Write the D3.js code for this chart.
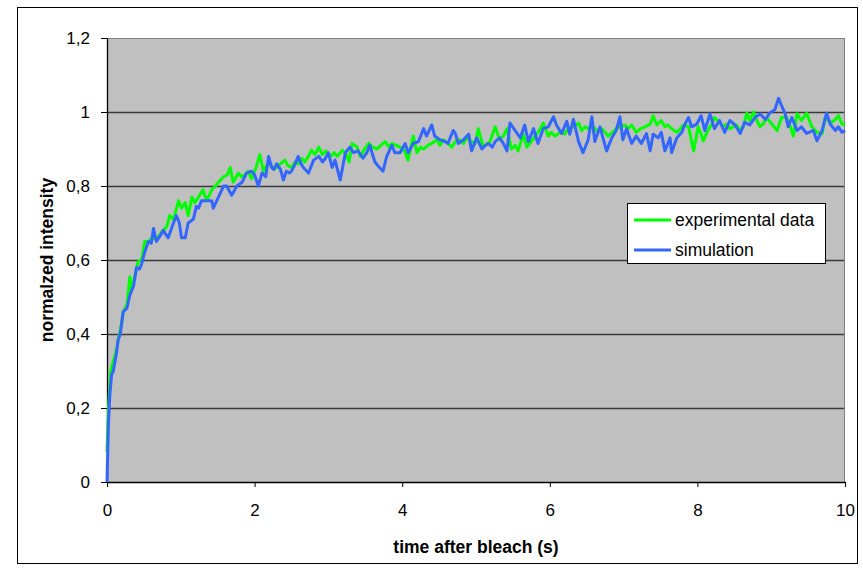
<!DOCTYPE html>
<html>
<head>
<meta charset="utf-8">
<script src="https://cdn.jsdelivr.net/npm/d3@7"></script>
<style>
  body { margin: 0; background: #fff; }
  svg { display: block; font-family: "Liberation Sans", Arial, sans-serif; }
</style>
</head>
<body>
<svg class="chart" width="863" height="572"></svg>
<script>
// experimental data (time in s, normalized intensity)
const expTime = [0, 0.02, 0.05, 0.09, 0.13, 0.18, 0.22, 0.27, 0.31, 0.33, 0.37, 0.42, 0.47, 0.51, 0.56, 0.61, 0.67, 0.72, 0.76, 0.81, 0.85, 0.9, 0.97, 1.01, 1.06, 1.1, 1.15, 1.19, 1.24, 1.3, 1.35, 1.42, 1.47, 1.51, 1.58, 1.63, 1.67, 1.71, 1.78, 1.82, 1.87, 1.91, 1.96, 2.02, 2.07, 2.12, 2.16, 2.21, 2.26, 2.3, 2.35, 2.41, 2.45, 2.5, 2.55, 2.59, 2.64, 2.68, 2.73, 2.77, 2.82, 2.87, 2.92, 2.97, 3.03, 3.08, 3.12, 3.19, 3.24, 3.28, 3.32, 3.39, 3.43, 3.49, 3.55, 3.6, 3.66, 3.71, 3.77, 3.82, 3.86, 3.92, 3.97, 4.03, 4.08, 4.15, 4.2, 4.25, 4.29, 4.35, 4.4, 4.47, 4.51, 4.56, 4.62, 4.67, 4.74, 4.78, 4.83, 4.87, 4.94, 4.99, 5.03, 5.1, 5.15, 5.19, 5.26, 5.32, 5.37, 5.42, 5.48, 5.53, 5.57, 5.64, 5.69, 5.75, 5.8, 5.86, 5.91, 5.98, 6.02, 6.07, 6.14, 6.2, 6.25, 6.32, 6.39, 6.43, 6.48, 6.52, 6.57, 6.63, 6.7, 6.75, 6.79, 6.85, 6.9, 6.96, 7.02, 7.06, 7.11, 7.17, 7.23, 7.29, 7.36, 7.4, 7.45, 7.51, 7.56, 7.6, 7.65, 7.72, 7.77, 7.81, 7.88, 7.92, 7.95, 8.01, 8.05, 8.08, 8.14, 8.19, 8.23, 8.3, 8.34, 8.39, 8.44, 8.48, 8.53, 8.58, 8.62, 8.67, 8.71, 8.76, 8.81, 8.85, 8.9, 8.94, 9.01, 9.08, 9.14, 9.21, 9.26, 9.3, 9.35, 9.41, 9.48, 9.55, 9.62, 9.69, 9.73, 9.78, 9.82, 9.87, 9.91, 9.96, 10];
const expValue = [0.08, 0.2, 0.3, 0.33, 0.36, 0.41, 0.46, 0.48, 0.555, 0.52, 0.55, 0.595, 0.6, 0.65, 0.65, 0.66, 0.655, 0.67, 0.68, 0.69, 0.72, 0.71, 0.76, 0.74, 0.755, 0.72, 0.77, 0.755, 0.77, 0.79, 0.76, 0.79, 0.8, 0.81, 0.825, 0.83, 0.85, 0.81, 0.835, 0.825, 0.83, 0.84, 0.82, 0.85, 0.885, 0.84, 0.855, 0.86, 0.845, 0.85, 0.86, 0.87, 0.855, 0.85, 0.865, 0.86, 0.875, 0.865, 0.88, 0.897, 0.885, 0.905, 0.885, 0.895, 0.88, 0.89, 0.88, 0.897, 0.885, 0.865, 0.915, 0.905, 0.88, 0.9, 0.915, 0.905, 0.9, 0.91, 0.92, 0.905, 0.915, 0.91, 0.905, 0.895, 0.87, 0.935, 0.89, 0.905, 0.9, 0.91, 0.915, 0.925, 0.91, 0.925, 0.915, 0.905, 0.925, 0.925, 0.915, 0.93, 0.92, 0.915, 0.955, 0.905, 0.915, 0.92, 0.96, 0.925, 0.935, 0.955, 0.9, 0.91, 0.895, 0.94, 0.905, 0.92, 0.935, 0.95, 0.97, 0.935, 0.945, 0.935, 0.945, 0.94, 0.955, 0.96, 0.97, 0.95, 0.96, 0.955, 0.965, 0.95, 0.955, 0.945, 0.935, 0.945, 0.955, 0.96, 0.965, 0.955, 0.965, 0.945, 0.955, 0.96, 0.967, 0.99, 0.965, 0.977, 0.96, 0.965, 0.955, 0.945, 0.955, 0.965, 0.96, 0.922, 0.895, 0.96, 0.94, 0.922, 0.95, 0.965, 0.985, 0.972, 0.96, 0.967, 0.955, 0.96, 0.965, 0.95, 0.96, 0.997, 0.977, 1.0, 0.975, 0.96, 0.97, 0.985, 0.967, 0.95, 0.985, 0.985, 0.96, 0.935, 0.995, 0.977, 0.997, 0.96, 0.945, 0.942, 0.985, 0.975, 0.972, 0.98, 0.99, 0.967, 0.965];

// simulation
const simTime = [0, 0.02, 0.04, 0.063, 0.086, 0.13, 0.15, 0.18, 0.22, 0.27, 0.31, 0.36, 0.4, 0.44, 0.47, 0.51, 0.56, 0.6, 0.63, 0.67, 0.72, 0.76, 0.83, 0.9, 0.94, 0.98, 1.01, 1.06, 1.1, 1.17, 1.21, 1.24, 1.28, 1.35, 1.42, 1.44, 1.51, 1.58, 1.62, 1.69, 1.76, 1.83, 1.89, 1.96, 2.0, 2.05, 2.1, 2.15, 2.19, 2.23, 2.26, 2.3, 2.35, 2.39, 2.43, 2.47, 2.5, 2.55, 2.59, 2.63, 2.66, 2.73, 2.8, 2.87, 2.92, 2.96, 3.0, 3.05, 3.09, 3.16, 3.23, 3.29, 3.34, 3.4, 3.47, 3.52, 3.56, 3.63, 3.67, 3.74, 3.79, 3.86, 3.9, 3.97, 4.04, 4.08, 4.15, 4.22, 4.29, 4.33, 4.4, 4.44, 4.51, 4.58, 4.62, 4.69, 4.72, 4.76, 4.83, 4.9, 4.94, 5.01, 5.08, 5.13, 5.17, 5.22, 5.26, 5.32, 5.37, 5.42, 5.46, 5.53, 5.6, 5.66, 5.71, 5.78, 5.84, 5.91, 5.98, 6.05, 6.09, 6.16, 6.23, 6.27, 6.32, 6.39, 6.45, 6.52, 6.57, 6.61, 6.68, 6.72, 6.77, 6.84, 6.9, 6.95, 6.99, 7.04, 7.11, 7.17, 7.24, 7.31, 7.36, 7.4, 7.47, 7.51, 7.56, 7.63, 7.65, 7.72, 7.79, 7.83, 7.88, 7.92, 7.99, 8.05, 8.1, 8.17, 8.23, 8.3, 8.37, 8.44, 8.51, 8.58, 8.64, 8.71, 8.78, 8.85, 8.92, 8.98, 9.05, 9.1, 9.14, 9.19, 9.23, 9.28, 9.35, 9.41, 9.48, 9.57, 9.62, 9.69, 9.75, 9.8, 9.87, 9.91, 9.96, 10];
const simValue = [0, 0.16, 0.24, 0.29, 0.3, 0.35, 0.384, 0.4, 0.46, 0.47, 0.505, 0.53, 0.58, 0.575, 0.59, 0.62, 0.65, 0.645, 0.685, 0.65, 0.665, 0.68, 0.66, 0.7, 0.72, 0.7, 0.66, 0.66, 0.7, 0.71, 0.745, 0.74, 0.76, 0.76, 0.76, 0.74, 0.77, 0.8, 0.8, 0.775, 0.8, 0.81, 0.835, 0.84, 0.83, 0.8, 0.835, 0.825, 0.88, 0.85, 0.845, 0.86, 0.845, 0.816, 0.84, 0.835, 0.84, 0.86, 0.88, 0.86, 0.85, 0.835, 0.87, 0.88, 0.865, 0.875, 0.89, 0.85, 0.87, 0.816, 0.89, 0.905, 0.89, 0.895, 0.875, 0.89, 0.91, 0.865, 0.855, 0.84, 0.88, 0.91, 0.89, 0.89, 0.915, 0.89, 0.915, 0.92, 0.955, 0.935, 0.965, 0.935, 0.925, 0.92, 0.915, 0.95, 0.942, 0.915, 0.925, 0.94, 0.895, 0.93, 0.9, 0.91, 0.915, 0.905, 0.92, 0.93, 0.915, 0.895, 0.97, 0.95, 0.93, 0.965, 0.92, 0.955, 0.915, 0.955, 0.96, 0.987, 0.965, 0.942, 0.975, 0.94, 0.98, 0.92, 0.89, 0.925, 0.987, 0.92, 0.96, 0.93, 0.895, 0.93, 0.95, 0.987, 0.925, 0.955, 0.915, 0.935, 0.915, 0.942, 0.895, 0.94, 0.93, 0.945, 0.895, 0.93, 0.89, 0.93, 0.945, 0.967, 0.985, 0.96, 0.967, 0.99, 0.95, 0.995, 0.955, 0.977, 0.945, 0.977, 0.965, 0.942, 0.972, 0.965, 0.985, 0.995, 0.98, 0.997, 1.007, 1.037, 1.017, 0.995, 0.96, 0.985, 0.95, 0.96, 0.942, 0.95, 0.922, 0.95, 0.997, 0.967, 0.95, 0.96, 0.945, 0.95];

const xTicks = [0, 2, 4, 6, 8, 10];
const yTicks = [0, 0.2, 0.4, 0.6, 0.8, 1, 1.2];
const yTickLabels = ["0", "0,2", "0,4", "0,6", "0,8", "1", "1,2"];

const margin = { top: 38, right: 18, bottom: 90, left: 107 };
const width = 863 - margin.left - margin.right; // 738
const height = 572 - margin.top - margin.bottom; // 444

const svg = d3.select(".chart");

// outer frame
svg.append("rect")
  .attr("x", 17.5).attr("y", 7.5)
  .attr("width", 840).attr("height", 556)
  .attr("fill", "#fff")
  .attr("stroke", "#000")
  .attr("stroke-width", 1);

const g = svg.append("g")
  .attr("transform", `translate(${margin.left},${margin.top})`);

const x = d3.scaleLinear().domain([0, 10]).range([0, width]);
const y = d3.scaleLinear().domain([0, 1.2]).range([height, 0]);

// plot background
g.append("rect")
  .attr("width", width).attr("height", height)
  .attr("fill", "#c0c0c0");

// horizontal grid lines
g.selectAll(".grid-line")
  .data(yTicks.filter((d) => d > 0 && d < 1.2))
  .join("line")
  .attr("class", "grid-line")
  .attr("x1", 0).attr("x2", width)
  .attr("y1", (d) => Math.round(y(d)) + 0.5)
  .attr("y2", (d) => Math.round(y(d)) + 0.5)
  .attr("stroke", "#3a3a3a")
  .attr("stroke-width", 1.3);

// top and right border of plot area
g.append("path")
  .attr("d", `M0,0.5H${width - 0.5}V${height}`)
  .attr("fill", "none")
  .attr("stroke", "#808080")
  .attr("stroke-width", 1);

// axes
const xAxis = g.append("g")
  .attr("transform", `translate(0,${height})`)
  .call(d3.axisBottom(x).tickValues(xTicks).tickSize(5).tickSizeOuter(0).tickPadding(17));

const yAxis = g.append("g")
  .call(d3.axisLeft(y).tickValues(yTicks).tickSize(6).tickSizeOuter(0).tickPadding(11)
    .tickFormat((d, i) => yTickLabels[i]));

[xAxis, yAxis].forEach((ax) => {
  ax.select(".domain").attr("stroke", "#000").attr("stroke-width", 1.3);
  ax.selectAll(".tick line").attr("stroke", "#000");
  ax.selectAll(".tick text")
    .attr("fill", "#000")
    .style("font-family", "Liberation Sans, Arial, sans-serif")
    .style("font-size", "17px");
});

// series lines
const series = [
  { key: "exp", label: "experimental data", color: "#00ff00", time: expTime, values: expValue },
  { key: "sim", label: "simulation", color: "#3366ff", time: simTime, values: simValue },
];

const line = d3.line()
  .x((d) => x(d[0]))
  .y((d) => y(d[1]));

series.forEach(({ key, color, time, values }) => {
  g.append("path")
    .datum(d3.zip(time, values))
    .attr("class", `line ${key}-line`)
    .attr("d", line)
    .attr("fill", "none")
    .attr("stroke", color)
    .attr("stroke-width", 3)
    .attr("stroke-linejoin", "round");
});

// axis titles
svg.append("text")
  .attr("x", margin.left + width / 2)
  .attr("y", 553)
  .attr("text-anchor", "middle")
  .style("font-size", "17.5px")
  .style("font-weight", "bold")
  .text("time after bleach (s)");

svg.append("text")
  .attr("transform", `translate(53,${margin.top + height / 2}) rotate(-90)`)
  .attr("text-anchor", "middle")
  .style("font-size", "17.5px")
  .style("font-weight", "bold")
  .text("normalzed intensity");

// legend
const legend = svg.append("g").attr("transform", "translate(627,203)");
legend.append("rect")
  .attr("x", 0.5).attr("y", 0.5)
  .attr("width", 198).attr("height", 60)
  .attr("fill", "#fff")
  .attr("stroke", "#000");

series.forEach(({ label, color }, i) => {
  const ly = 17 + i * 30;
  legend.append("line")
    .attr("x1", 7).attr("x2", 44)
    .attr("y1", ly).attr("y2", ly)
    .attr("stroke", color)
    .attr("stroke-width", 3);
  legend.append("text")
    .attr("x", 48)
    .attr("y", ly)
    .attr("dy", "0.32em")
    .style("font-size", "17.5px")
    .text(label);
});
</script>
</body>
</html>
